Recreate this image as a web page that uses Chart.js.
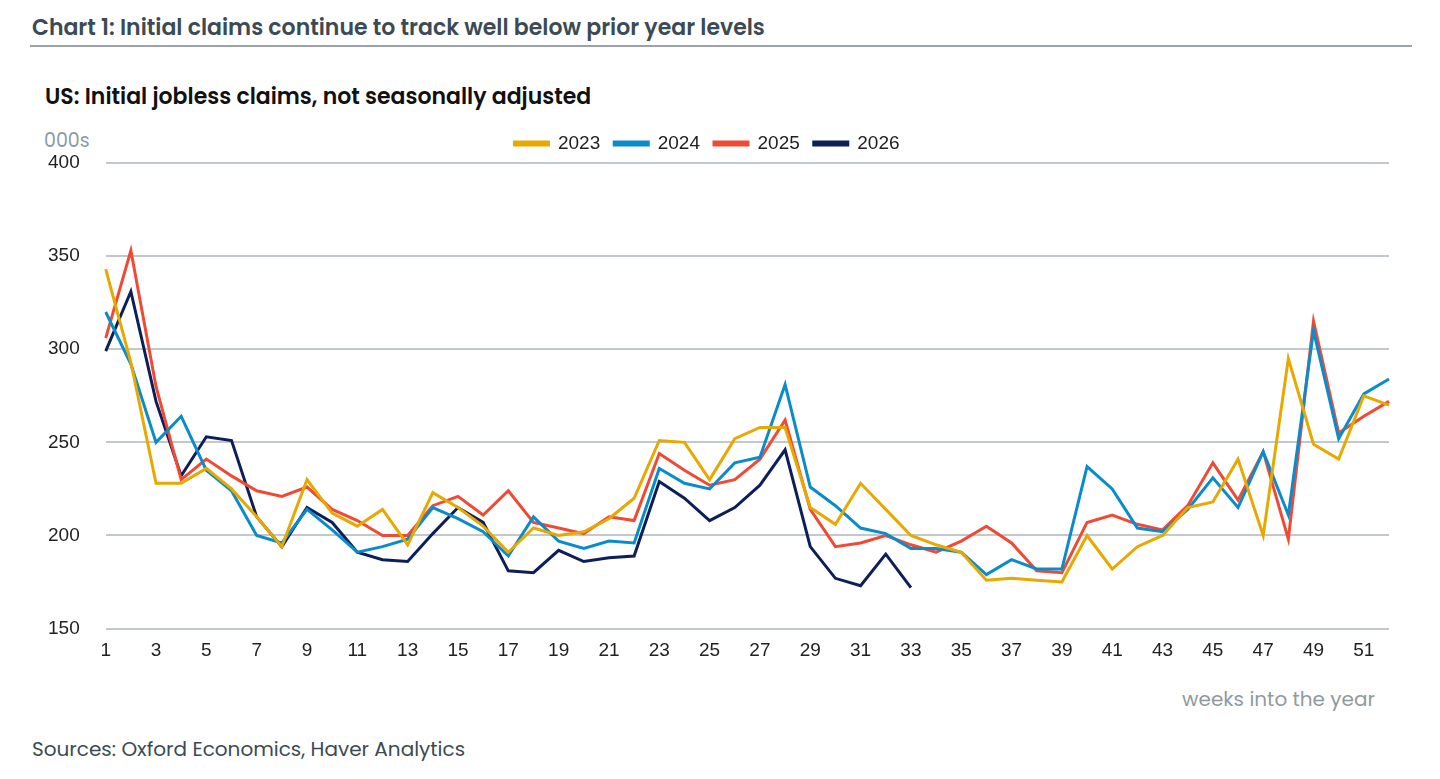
<!DOCTYPE html>
<html>
<head>
<meta charset="utf-8">
<script src="https://cdn.jsdelivr.net/npm/chart.js@4"></script>
<style>
  body { margin: 0; background: #fff; font-family: Poppins, "Noto Sans", sans-serif; }
  #title { position: absolute; left: 32px; top: 11px; font-size: 22px; font-weight: 600; color: #3b4b55; }
  #rule { position: absolute; left: 30px; top: 45px; width: 1382px; height: 2px; background: #9aa3a8; }
  #sub { position: absolute; left: 45px; top: 80px; font-size: 22px; font-weight: 600; color: #111; }
  #units { position: absolute; left: 44px; top: 126px; font-size: 19px; color: #8f9aa0; }
  #xlab { position: absolute; right: 65px; top: 684px; font-size: 20px; color: #8f9aa0; }
  #src { position: absolute; left: 32px; top: 734px; font-size: 20px; color: #3b4b55; }
  #wrap { position: absolute; left: 22px; top: 120px; width: 1370px; height: 546px; }
</style>
</head>
<body>
<div id="title">Chart 1: Initial claims continue to track well below prior year levels</div>
<div id="rule"></div>
<div id="sub">US: Initial jobless claims, not seasonally adjusted</div>
<div id="units">000s</div>
<div id="xlab">weeks into the year</div>
<div id="src">Sources: Oxford Economics, Haver Analytics</div>
<div id="wrap"><canvas id="c"></canvas></div>
<script>
const weeks = Array.from({ length: 52 }, (_, i) => String(i + 1));

const y2023 = [343, 293, 228, 228, 236, 225, 210, 194, 230, 212, 205, 214, 195, 223, 215, 205, 191, 204, 200, 202, 209, 220, 251, 250, 230, 252, 258, 258, 215, 206, 228, 214, 200, 195, 191, 176, 177, 176, 175, 200, 182, 194, 200, 215, 218, 241, 200, 295, 249, 241, 275, 270];
const y2024 = [320, 292, 250, 264, 235, 224, 200, 196, 214, 203, 191, 194, 198, 215, 209, 202, 189, 210, 197, 193, 197, 196, 236, 228, 225, 239, 242, 281, 226, 216, 204, 201, 193, 193, 191, 179, 187, 182, 182, 237, 225, 204, 202, 214, 231, 215, 245, 211, 310, 252, 276, 284];
const y2025 = [306, 353, 280, 230, 241, 232, 224, 221, 226, 214, 208, 200, 200, 216, 221, 211, 224, 207, 204, 201, 210, 208, 244, 235, 227, 230, 241, 262, 214, 194, 196, 200, 195, 191, 197, 205, 196, 181, 180, 207, 211, 206, 203, 216, 239, 219, 245, 198, 315, 255, 264, 272];
const y2026 = [299, 331, 272, 232, 253, 251, 210, 194, 215, 207, 191, 187, 186, 201, 215, 207, 181, 180, 192, 186, 188, 189, 229, 220, 208, 215, 227, 246, 194, 177, 173, 190, 172];

const mk = (label, data, color) => ({
  label, data, borderColor: color, backgroundColor: color,
  borderWidth: 3, pointRadius: 0, tension: 0, fill: false
});

new Chart(document.getElementById("c"), {
  type: "line",
  data: {
    labels: weeks,
    datasets: [
      mk("2023", y2023, "#e8a800"),
      mk("2024", y2024, "#0a8ccc"),
      mk("2025", y2025, "#f04a34"),
      mk("2026", y2026, "#0c1f5a"),
    ],
  },
  options: {
    responsive: true,
    maintainAspectRatio: false,
    animation: false,
    plugins: {
      legend: {
        labels: { boxWidth: 34, boxHeight: 3, font: { size: 19 }, color: "#222", padding: 14 },
      },
      tooltip: { enabled: false },
    },
    scales: {
      x: {
        offset: false,
        grid: { display: false },
        border: { display: false },
        ticks: {
          autoSkip: false, maxRotation: 0, font: { size: 19 }, color: "#222",
          callback: (v, i) => (i % 2 === 0 ? weeks[i] : ""),
        },
      },
      y: {
        min: 150, max: 400,
        border: { display: false },
        grid: { color: "#c3c8cc", lineWidth: 2, drawTicks: false },
        ticks: { stepSize: 50, font: { size: 19 }, color: "#222", padding: 26 },
      },
    },
  },
});
</script>
</body>
</html>
